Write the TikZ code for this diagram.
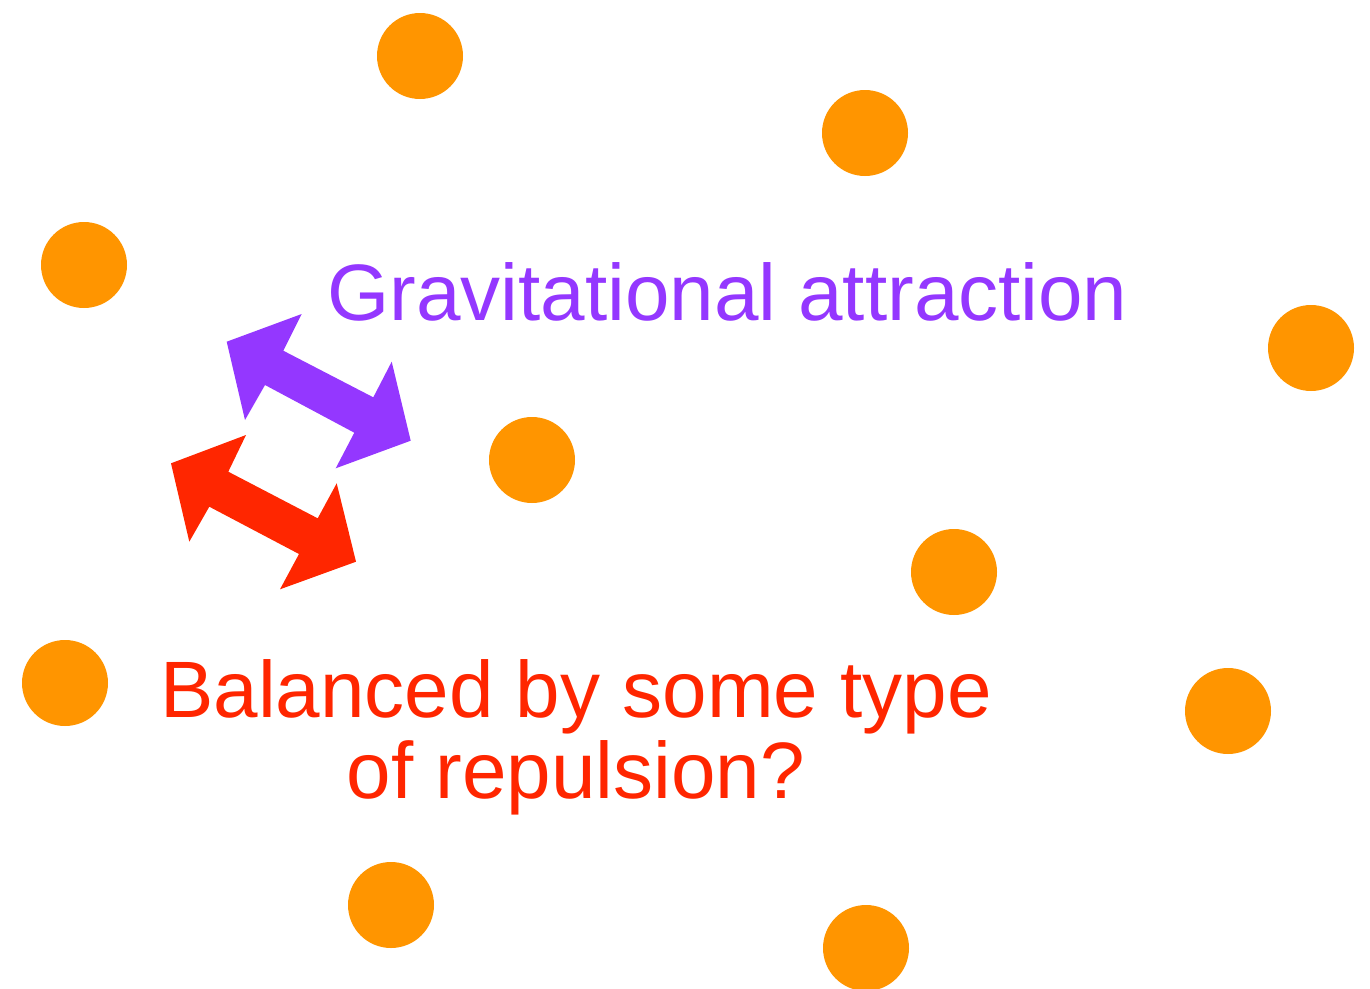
\documentclass[tikz,border=0pt]{standalone}
\usepackage{fontspec}
\setmainfont{Liberation Sans}
\definecolor{dotorange}{HTML}{FF9500}
\definecolor{gravpurple}{HTML}{9437FF}
\definecolor{repred}{HTML}{FF2600}
\begin{document}
\begin{tikzpicture}[x=1pt,y=-1pt,
  dot/.style={circle,fill=dotorange,minimum size=86pt,inner sep=0pt},
  bigtext/.style={font=\fontsize{80}{81}\selectfont,inner sep=0pt}]
\useasboundingbox (0,0) rectangle (1370,988);
\node[dot] (d1) at (420,56) {};
\node[dot] (d2) at (865,133) {};
\node[dot] (d3) at (84,265) {};
\node[dot] (d4) at (1311,348) {};
\node[dot] (d5) at (532,460) {};
\node[dot] (d6) at (954,572) {};
\node[dot] (d7) at (65,683) {};
\node[dot] (d8) at (1228,711) {};
\node[dot] (d9) at (391,905) {};
\node[dot] (d10) at (866,948) {};
% purple double arrow
\fill[gravpurple] (226.7,341.7) -- (301.7,314) -- (283.3,350.7) -- (373.3,397.3)
  -- (391.7,361.7) -- (410.7,440.7) -- (335.7,468.3) -- (354.3,432.7)
  -- (265,385) -- (245,420) -- cycle;
% red double arrow
\fill[repred] (171,463.3) -- (246,435) -- (228.3,471.7) -- (317.7,518.3)
  -- (336.7,483.3) -- (356,561.7) -- (280,589.3) -- (299,554)
  -- (209.3,506.7) -- (189.3,541.7) -- cycle;
\node[bigtext,text=gravpurple,anchor=base west] (grav) at (327,320) {Gravitational attraction};
\node[bigtext,text=repred,anchor=base,align=center] (rep) at (576,798) {Balanced by some type\\of repulsion?};
\end{tikzpicture}
\end{document}
